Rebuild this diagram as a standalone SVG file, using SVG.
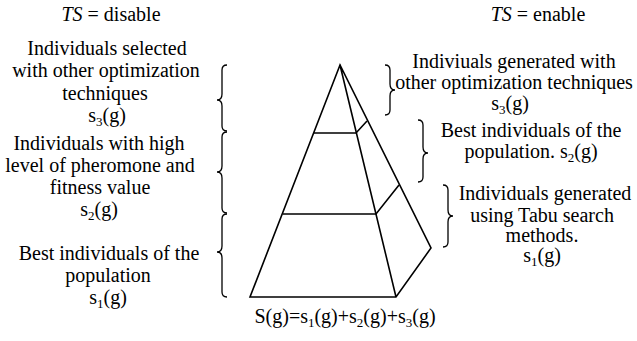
<svg xmlns="http://www.w3.org/2000/svg" width="637" height="341" viewBox="0 0 637 341">
<style>
text{font-family:"Liberation Serif","Times New Roman",serif;font-size:20px;fill:#000;text-anchor:middle}
.sub{font-size:13px}
.it{font-style:italic}
.ln{fill:none;stroke:#000;stroke-width:1.6;stroke-linejoin:miter}
.br{fill:none;stroke:#000;stroke-width:1.3}
</style>
<rect width="637" height="341" fill="#fff"/>
<g id="titles">
<text x="111" y="21"><tspan class="it">TS</tspan> = disable</text>
<text x="538" y="21"><tspan class="it">TS</tspan> = enable</text>
</g>
<g id="pyramid">
<path class="ln" d="M340,65 L250,297 L396,297 L431,248 L340,65 Z M340,65 L396,297"/>
<path class="ln" d="M314,133 L356,133 L367,121"/>
<path class="ln" d="M283,214 L376,214 L399,185"/>
</g>
<g id="connectors">
<path class="br" d="M227,65 Q222,65 222,70 L222,94 Q222,100 217,100 Q222,100 222,106 L222,126 Q222,131 227,131"/>
<path class="br" d="M227,132 Q222,132 222,137 L222,166 Q222,172 217,172 Q222,172 222,178 L222,208 Q222,213 227,213"/>
<path class="br" d="M227,214 Q222,214 222,219 L222,246 Q222,252 217,252 Q222,252 222,258 L222,292 Q222,297 227,297"/>
<path class="br" d="M385,65 Q390,65 390,70 L390,84 Q390,90 395,90 Q390,90 390,96 L390,110 Q390,115 385,115"/>
<path class="br" d="M418,120 Q423,120 423,125 L423,147 Q423,153 428,153 Q423,153 423,159 L423,177 Q423,182 418,182"/>
<path class="br" d="M443,185 Q448,185 448,190 L448,210 Q448,216 453,216 Q448,216 448,222 L448,242 Q448,247 443,247"/>
</g>
<g id="left-s3">
<text x="107" y="55">Individuals selected</text>
<text x="106" y="77">with other optimization</text>
<text x="105" y="100">techniques</text>
<text x="107" y="122">s<tspan class="sub" dy="4">3</tspan><tspan dy="-4">(g)</tspan></text>
</g>
<g id="left-s2">
<text x="99" y="150">Individuals with high</text>
<text x="100" y="172">level of pheromone and</text>
<text x="100" y="194">fitness value</text>
<text x="99" y="216">s<tspan class="sub" dy="4">2</tspan><tspan dy="-4">(g)</tspan></text>
</g>
<g id="left-s1">
<text x="109" y="260">Best individuals of the</text>
<text x="108" y="282">population</text>
<text x="108" y="304">s<tspan class="sub" dy="4">1</tspan><tspan dy="-4">(g)</tspan></text>
</g>
<g id="right-s3">
<text x="514" y="68">Indiviuals generated with</text>
<text x="514" y="89">other optimization techniques</text>
<text x="510" y="110">s<tspan class="sub" dy="4">3</tspan><tspan dy="-4">(g)</tspan></text>
</g>
<g id="right-s2">
<text x="531" y="137">Best individuals of the</text>
<text x="531" y="158">population. s<tspan class="sub" dy="4">2</tspan><tspan dy="-4">(g)</tspan></text>
</g>
<g id="right-s1">
<text x="545" y="200">Individuals generated</text>
<text x="542" y="222">using Tabu search</text>
<text x="542" y="242">methods.</text>
<text x="542" y="262">s<tspan class="sub" dy="4">1</tspan><tspan dy="-4">(g)</tspan></text>
</g>
<g id="formula">
<text x="345" y="323">S(g)=s<tspan class="sub" dy="4">1</tspan><tspan dy="-4">(g)+s</tspan><tspan class="sub" dy="4">2</tspan><tspan dy="-4">(g)+s</tspan><tspan class="sub" dy="4">3</tspan><tspan dy="-4">(g)</tspan></text>
</g>
</svg>
